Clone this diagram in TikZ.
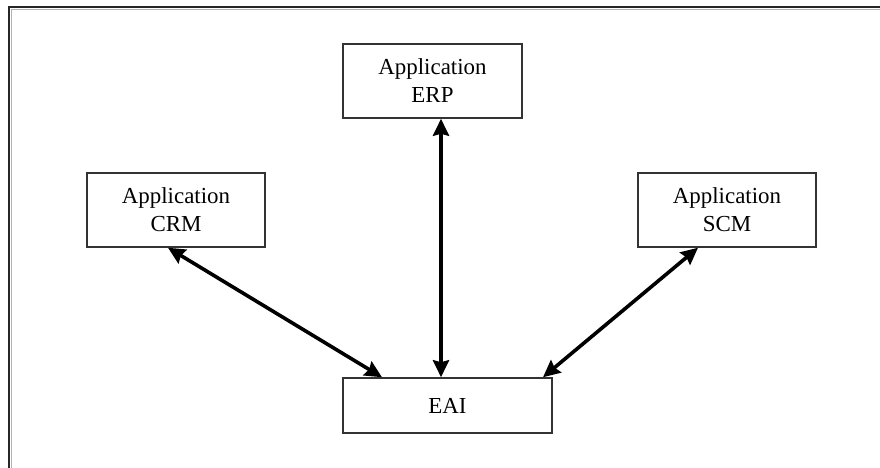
\documentclass[tikz,border=0pt]{standalone}
\usepackage{fontspec}
\setmainfont{Liberation Serif}
\usetikzlibrary{arrows.meta}
\begin{document}
\begin{tikzpicture}[x=1bp,y=-1bp,
  appbox/.style={draw=black!80, line width=1.5bp, fill=white, minimum width=178bp,
    minimum height=74bp, align=center, font=\fontsize{23}{28}\selectfont, inner sep=0pt},
  link/.style={line width=3.6bp, {Stealth[length=17bp,width=16bp,inset=2bp]}-{Stealth[length=17bp,width=16bp,inset=2bp]}}]
  \useasboundingbox (0,0) rectangle (880,468);
  \fill[white] (0,0) rectangle (880,468);
  % frame edges
  \draw[line width=2.2bp, black!85] (880,7) -- (9,7) -- (9,468);
  \draw[line width=1bp, black!30] (880,9.5) -- (11.5,9.5) -- (11.5,468);
  % boxes
  \node[appbox, minimum width=179bp] (erp) at (432.5,81) {Application\\ERP};
  \node[appbox] (crm) at (176,210) {Application\\CRM};
  \node[appbox] (scm) at (727,210) {Application\\SCM};
  \node[appbox, minimum width=209bp, minimum height=55bp] (eai) at (447.5,405.5) {EAI};
  % connectors
  \draw[link] (erp.south -| 441,0) -- (eai.north -| 441,0);
  \draw[link] (crm.south -| 168,0) -- (eai.north -| 382,0);
  \draw[link] (scm.south -| 698,0) -- (eai.north -| 543,0);
\end{tikzpicture}
\end{document}
